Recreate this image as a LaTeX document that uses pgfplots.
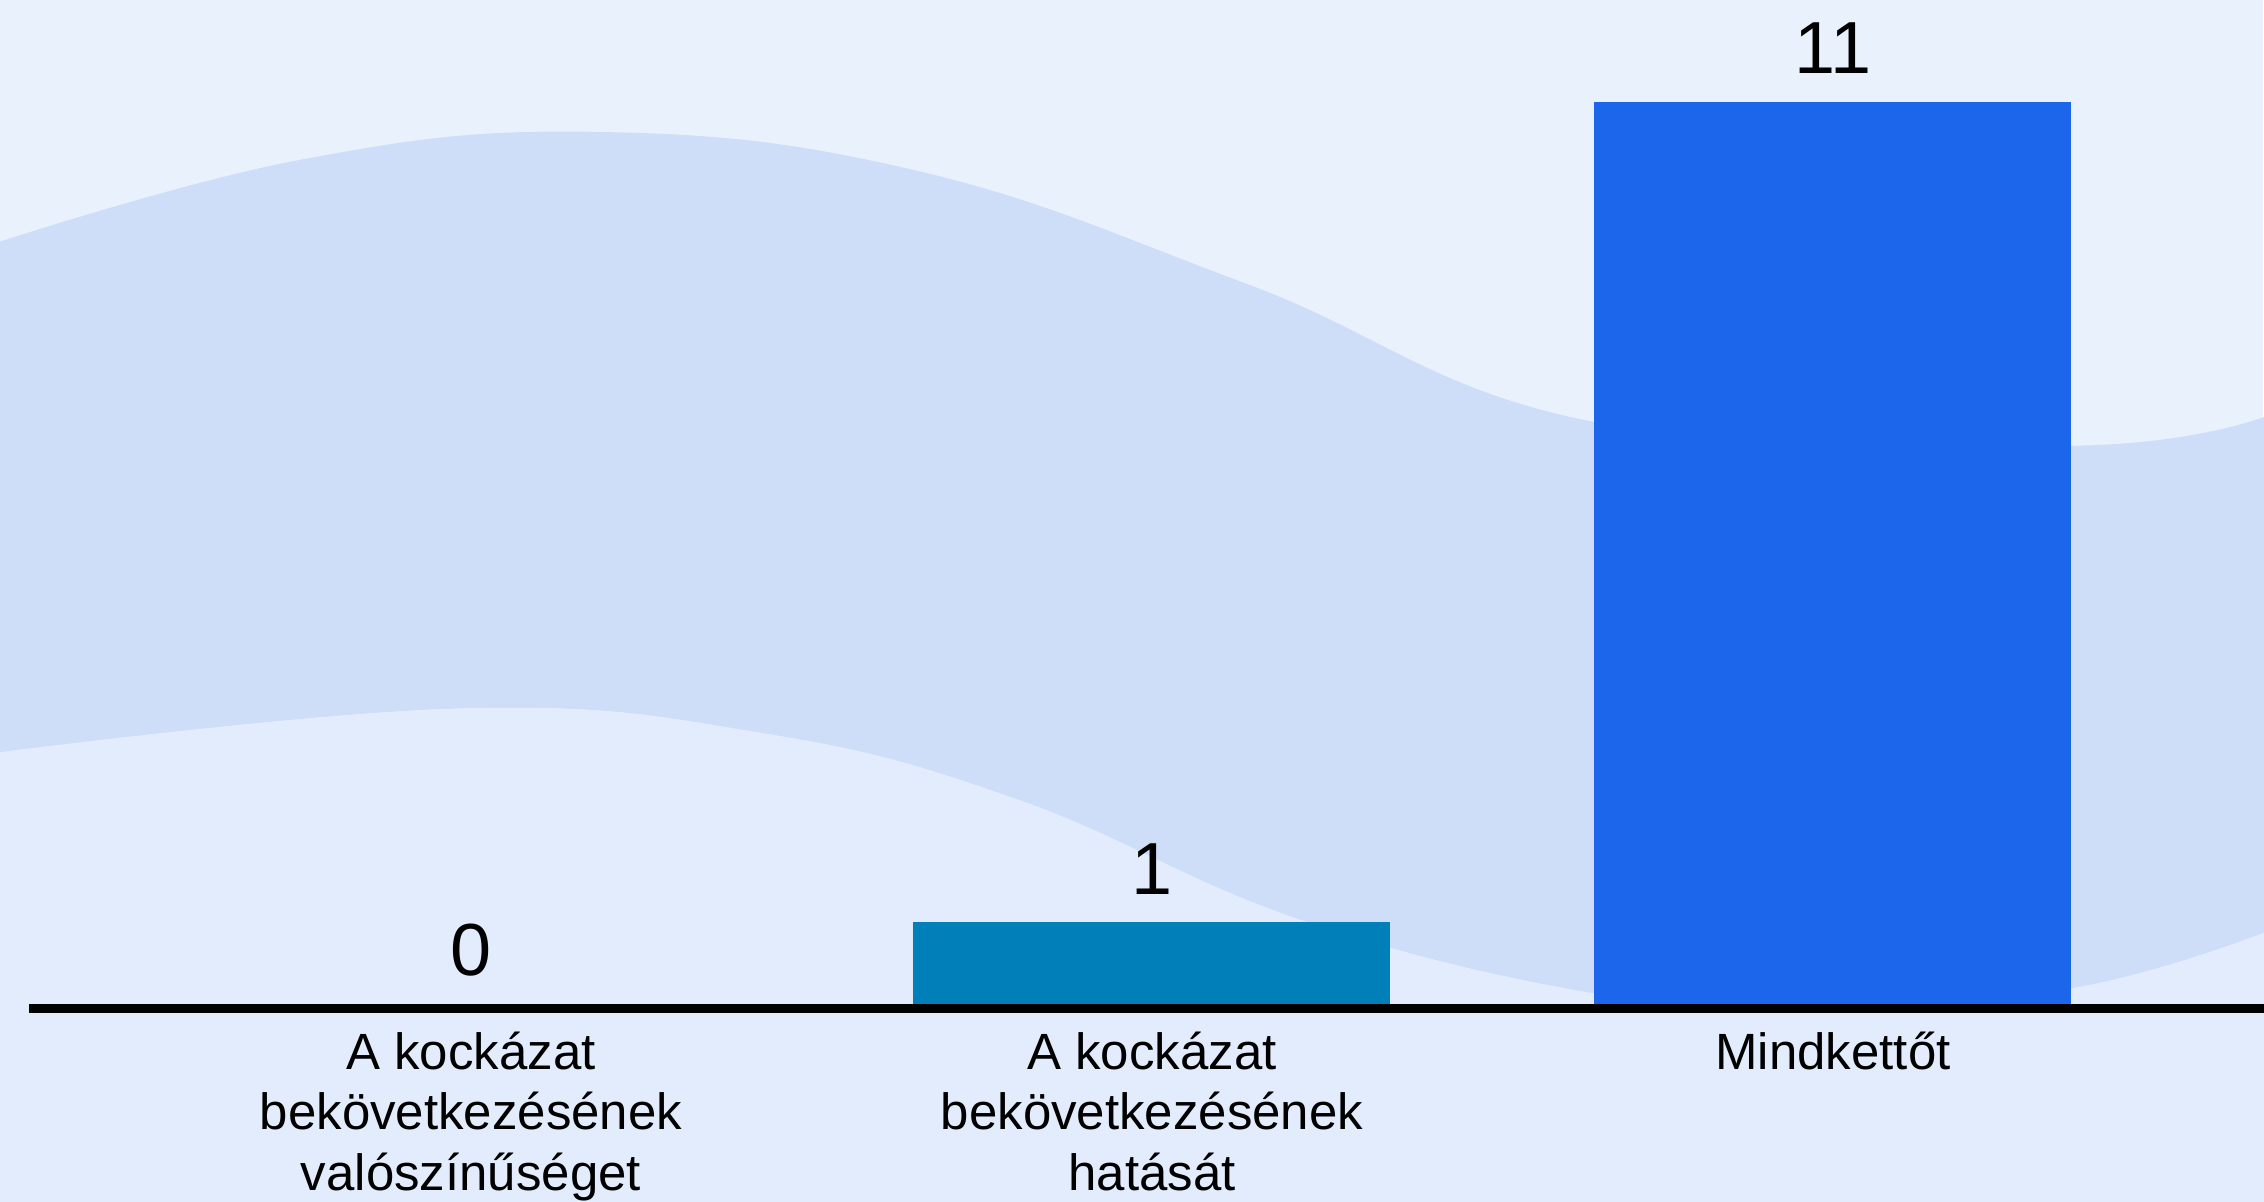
\documentclass[border=0pt]{standalone}
\usepackage{pgfplots}
\pgfplotsset{compat=1.18}
\usepackage{fontspec}
\setmainfont{Liberation Sans}
\definecolor{bgtop}{HTML}{E9F1FD}
\definecolor{bgbot}{HTML}{E3ECFC}
\definecolor{wavec}{HTML}{CFDEF8}
\definecolor{barA}{HTML}{007FB9}
\definecolor{barB}{HTML}{1B66EB}
\begin{document}
\begin{tikzpicture}
% decorative background (pixel coordinates, origin top-left)
\begin{scope}[shift={(0,10.04cm)}, x=0.01cm, y=-0.01cm]
  \fill[bgtop] (0,0) rectangle (2264,1201);
  \fill[wavec] plot[smooth, tension=0.7] coordinates {(-10,245) (300,160) (597,132) (918,171) (1250,285) (1594,422) (2072,446) (2274,414)}
     -- plot[smooth, tension=0.7] coordinates {(2274,930) (2072,989) (1800,1008) (1594,994) (1300,920) (1018,800) (765,734) (459,709) (-10,754)} -- cycle;
  \fill[bgbot] plot[smooth, tension=0.7] coordinates {(2274,930) (2072,989) (1800,1008) (1594,994) (1300,920) (1018,800) (765,734) (459,709) (-10,754)}
     -- (-10,1211) -- (2274,1211) -- cycle;
\end{scope}
\begin{axis}[
  at={(0,0)}, anchor=south west,
  scale only axis,
  width=22.64cm, height=10.04cm,
  xmin=-0.6916, xmax=2.633,
  ymin=0, ymax=12.24,
  axis line style={draw=none},
  tick style={draw=none},
  ytick=\empty,
  xtick={0,1,2},
  xticklabels={{A kockázat\\bekövetkezésének\\valószínűséget},{A kockázat\\bekövetkezésének\\hatását},{Mindkettőt}},
  xticklabel style={align=center, anchor=north, inner sep=0pt, yshift=-1.2mm,
    font=\fontsize{14.5}{17.2}\selectfont},
  ybar, bar width=4.77cm,
  clip=false,
  nodes near coords,
  /pgf/number format/assume math mode=true,
  every node near coord/.append style={font=\fontsize{21}{25}\selectfont, anchor=south, inner sep=0pt, yshift=2.7mm, black},
]
\addplot[bar shift=0pt, fill=barA, draw=none] coordinates {(0,0)};
\addplot[bar shift=0pt, fill=barA, draw=none] coordinates {(1,1)};
\addplot[bar shift=0pt, fill=barB, draw=none] coordinates {(2,11)};
\draw[black, line width=0.9mm] ([yshift=-0.4mm]axis cs:-0.649,0) -- ([yshift=-0.4mm]axis cs:2.7,0);
\end{axis}
\pgfresetboundingbox
\path[use as bounding box] (0,-1.97cm) rectangle (22.64cm,10.04cm);
\end{tikzpicture}
\end{document}
